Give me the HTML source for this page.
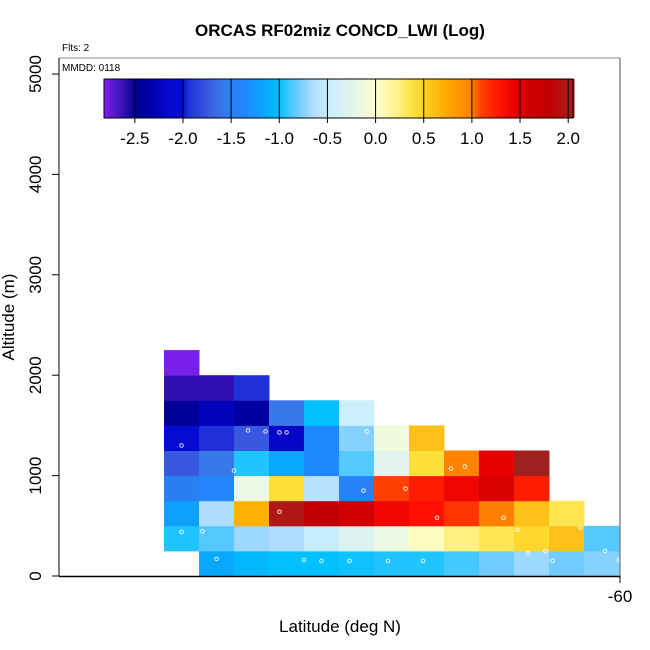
<!DOCTYPE html>
<html><head><meta charset="utf-8"><style>
body{margin:0;background:#fff}
svg{display:block;font-family:"Liberation Sans",sans-serif}
</style></head><body>
<svg id="chart" width="650" height="650" viewBox="0 0 650 650">
<rect width="650" height="650" fill="#fff"/>
<text x="340" y="36" text-anchor="middle" font-size="17" font-weight="bold">ORCAS RF02miz CONCD_LWI (Log)</text>
<text x="62" y="51" font-size="10">Flts: 2</text>
<g id="cells"></g>
<g id="pts"></g>
<line x1="59" y1="58" x2="620" y2="58" stroke="#888" stroke-width="1"/>
<line x1="620" y1="58" x2="620" y2="576" stroke="#888" stroke-width="1.5"/>
<line x1="59" y1="58" x2="59" y2="576" stroke="#000" stroke-width="1"/>
<line x1="59" y1="576.5" x2="620" y2="576.5" stroke="#000" stroke-width="1.5"/>
<text x="62" y="71" font-size="10">MMDD: 0118</text>
<g id="yaxis"></g>
<line x1="620" y1="576" x2="620" y2="583" stroke="#000"/>
<text x="620" y="602" text-anchor="middle" font-size="17">-60</text>
<text x="340" y="632" text-anchor="middle" font-size="17">Latitude (deg N)</text>
<text transform="translate(14,317) rotate(-90)" text-anchor="middle" font-size="17">Altitude (m)</text>
<g id="cbar"></g>
</svg>
<script>
// data
const colIndex=[[1,2,3,4,5,6,7,8,9,10,11,12],[0,1,2,3,4,5,6,7,8,9,10,11,12],[0,1,2,3,4,5,6,7,8,9,10,11],[0,1,2,3,4,5,6,7,8,9,10],[0,1,2,3,4,5,6,7,8,9,10],[0,1,2,3,4,5,6,7],[0,1,2,3,4,5],[0,1,2],[0]];
const rowValues=[
[-1.15,-1.05,-1.0,-1.0,-0.98,-0.95,-0.95,-0.88,-0.8,-0.7,-0.8,-0.75],
[-0.95,-0.85,-0.7,-0.65,-0.5,-0.3,-0.15,0.05,0.25,0.35,0.45,0.6,-0.85],
[-1.2,-0.65,0.7,2.0,1.8,1.6,1.4,1.3,1.15,1.0,0.6,0.35],
[-1.5,-1.4,-0.15,0.4,-0.6,-1.45,1.1,1.25,1.4,1.55,1.25],
[-1.75,-1.6,-0.95,-1.15,-1.35,-0.85,-0.25,0.4,0.98,1.45,2.05],
[-2.1,-1.95,-1.75,-2.2,-1.35,-0.75,-0.12,0.6],
[-2.45,-2.25,-2.4,-1.6,-1.0,-0.45],
[-2.6,-2.6,-1.95],
[-2.8]];
const altBins=[0,250,500,750,1000,1250,1500,1750,2000];
const yTicks=[0,1000,2000,3000,4000,5000];
const cbTicks=[-2.5,-2.0,-1.5,-1.0,-0.5,0.0,0.5,1.0,1.5,2.0];
const ptCol=[0.2,1.5,0.6,1.1,2.0,3.3,4.0,4.5,5.3,6.4,7.4,7.8,10.4,11.1,11.9,12.6,13.0,0.5,3.3,8.2,10.1,5.7,6.9,9.7,8.6,10.9,0.5,2.4,2.9,3.5,5.8,6.9];
const ptAlt=[160,170,210,445,1050,640,160,150,150,150,150,580,230,150,480,250,160,440,1430,1070,460,850,870,580,1090,250,1300,1450,1440,1430,1440,1440];
const stops=[[-2.82,'#8020f0'],[-2.7,'#5018c8'],[-2.6,'#3010b0'],[-2.5,'#000090'],[-2.3,'#0000b0'],[-2.15,'#0808d0'],[-2.0,'#0010d8'],[-1.95,'#2030d8'],[-1.75,'#3858e0'],[-1.6,'#3878e8'],[-1.5,'#2880f0'],[-1.35,'#2088ff'],[-1.15,'#08a8ff'],[-1.0,'#00c0ff'],[-0.95,'#20c4ff'],[-0.8,'#70ccff'],[-0.65,'#b0dcff'],[-0.5,'#c8ecff'],[-0.25,'#e0f4ec'],[0,'#ffffd0'],[0.25,'#fff080'],[0.4,'#ffe038'],[0.5,'#ffd020'],[0.6,'#ffc018'],[0.7,'#ffb000'],[1.0,'#ff8000'],[1.1,'#ff4000'],[1.3,'#ff1000'],[1.45,'#e80000'],[1.6,'#d00000'],[1.8,'#c00000'],[2.0,'#b01818'],[2.05,'#a02020']];
const NS='http://www.w3.org/2000/svg';
const X0=164,CW=35,Y0=576,PPM=502/5000;
const xs=c=>X0+c*CW, ys=a=>Y0-a*PPM;
function hx(h){return [1,3,5].map(i=>parseInt(h.substr(i,2),16));}
function color(v){
 if(v<=stops[0][0])return stops[0][1];
 for(let i=1;i<stops.length;i++){if(v<=stops[i][0]){const a=stops[i-1],b=stops[i],t=(v-a[0])/(b[0]-a[0]);const c1=hx(a[1]),c2=hx(b[1]);return 'rgb('+c1.map((c,k)=>Math.round(c+(c2[k]-c)*t)).join(',')+')';}}
 return stops[stops.length-1][1];
}
function mk(tag,at,parent){const e=document.createElementNS(NS,tag);for(const k in at)e.setAttribute(k,at[k]);parent.appendChild(e);return e;}
const cells=document.getElementById('cells');
rowValues.forEach((row,r)=>{row.forEach((v,i)=>{const c=colIndex[r][i];
 const e=mk('rect',{x:xs(c),y:ys(altBins[r]+250),width:CW+0.5,height:250*PPM+0.5,fill:color(v)},cells);
 
 
});});
const pts=document.getElementById('pts');
ptCol.forEach((c,i)=>{const e=mk('circle',{cx:xs(c),cy:ys(ptAlt[i]),r:1.8,fill:'none',stroke:'#fff','stroke-opacity':0.85,'stroke-width':1},pts);
 
 
});
const ya=document.getElementById('yaxis');
yTicks.forEach(t=>{const y=ys(t);
 const l=mk('line',{x1:52,y1:y,x2:59,y2:y,stroke:'#000'},ya);
 
 
 const tx=mk('text',{transform:`translate(41,${y}) rotate(-90)`,'text-anchor':'middle','font-size':17},ya);
 tx.textContent=String(t);
 
 
});
const cb=document.getElementById('cbar');
const CBX0=104,CBX1=573,VMIN=-2.82,VMAX=2.05,CBY=79,CBH=39;
const cx=v=>CBX0+(v-VMIN)/(VMAX-VMIN)*(CBX1-CBX0);
for(let px=CBX0;px<CBX1;px+=2){const v=VMIN+(px+1-CBX0)/(CBX1-CBX0)*(VMAX-VMIN);
 const e=mk('rect',{x:px,y:CBY,width:2.5,height:CBH,fill:color(v)},cb);
 
 
}
const fr=mk('rect',{x:CBX0,y:CBY,width:CBX1-CBX0,height:CBH,fill:'none',stroke:'#000','stroke-width':1},cb);


cbTicks.forEach(t=>{const x=cx(t);
 const l=mk('line',{x1:x,y1:CBY,x2:x,y2:CBY+CBH+5,stroke:'#000','stroke-width':1},cb);
 
 
 const tx=mk('text',{x:x,y:144,'text-anchor':'middle','font-size':17},cb);
 tx.textContent=t.toFixed(1);
 
 
});
</script>
</body></html>
